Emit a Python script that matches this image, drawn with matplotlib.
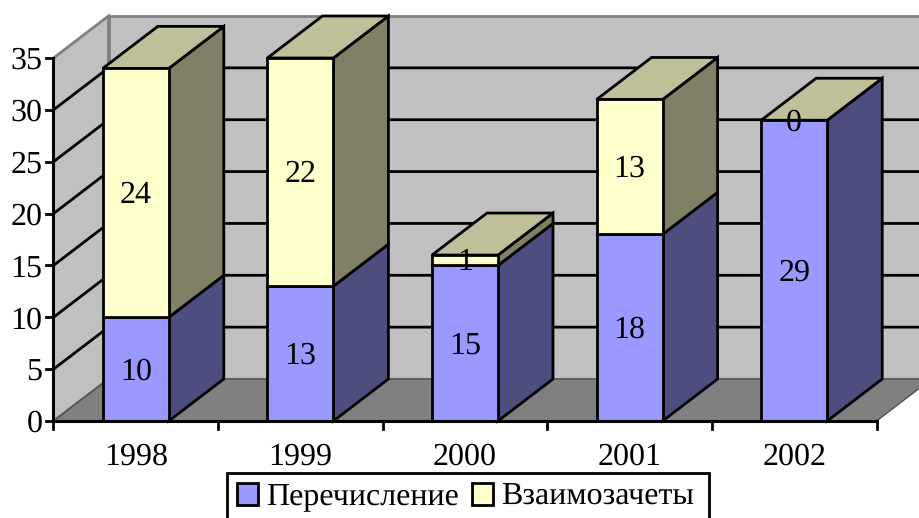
import matplotlib
matplotlib.use("Agg")
import matplotlib.pyplot as plt
from matplotlib.patches import Polygon, Patch, Rectangle

categories = ["1998", "1999", "2000", "2001", "2002"]
perechislenie = [10, 13, 15, 18, 29]
vzaimozachety = [24, 22, 1, 13, 0]
y_ticks = [0, 5, 10, 15, 20, 25, 30, 35]
series_names = ["Перечисление", "Взаимозачеты"]

W, H = 920, 518
plt.rcParams["font.family"] = ["Liberation Serif"]
plt.rcParams["text.hinting"] = "none"
fig = plt.figure(figsize=(W / 100, H / 100), dpi=100)
L, R, B, T = 53.5, 876.5, 421, 58
ax = fig.add_axes([L / W, 1 - B / H, (R - L) / W, (B - T) / H])
ax.set_xlim(0, 5)
ax.set_ylim(0, 35)
ax.axis("off")

px_x = 5 / (R - L)
px_y = 35 / (B - T)
DX = 55 * px_x
DY = 42 * px_y
BAR_W = 66 * px_x
FS = 23


def poly(pts, fc, ec="black", lw=2.0, z=2):
    ax.add_patch(Polygon(pts, closed=True, facecolor=fc, edgecolor=ec, linewidth=lw,
                         zorder=z, clip_on=False, joinstyle="miter"))


top = 35
# walls and floor
poly([(0, 0), (DX, DY), (DX, top + DY), (0, top)], "#C0C0C0", ec="#808080", lw=2, z=1)
poly([(DX, DY), (6, DY), (6, top + DY), (DX, top + DY)], "#C0C0C0", ec="#808080", lw=2, z=1)
poly([(0, 0), (DX, DY), (5 + DX, DY), (5, 0)], "#808080", ec="#505050", lw=1, z=1.1)

# gridlines
for v in y_ticks[1:-1]:
    ax.plot([0, DX, 6], [v, v + DY, v + DY], color="black", lw=2, zorder=1.5,
            clip_on=False, solid_joinstyle="miter")

# bars
front_cols = ["#9999FF", "#FFFFCC"]
side_cols = ["#4D4D80", "#808066"]
for i in range(len(categories)):
    cx = i + 0.5
    x0, x1 = cx - BAR_W / 2, cx + BAR_W / 2
    base = 0
    for s, vals in enumerate([perechislenie, vzaimozachety]):
        v = vals[i]
        if v > 0:
            y0, y1 = base, base + v
            poly([(x1, y0), (x1 + DX, y0 + DY), (x1 + DX, y1 + DY), (x1, y1)], side_cols[s], z=3 + i)
            poly([(x0, y0), (x1, y0), (x1, y1), (x0, y1)], front_cols[s], z=3 + i + 0.1)
        base += v
    y1 = base
    poly([(x0, y1), (x0 + DX, y1 + DY), (x1 + DX, y1 + DY), (x1, y1)], "#BFBF99", z=3 + i + 0.05)
    b = 0
    for vals in [perechislenie, vzaimozachety]:
        ax.text(cx, b + vals[i] / 2 + 1 * px_y, str(vals[i]), ha="center", va="center_baseline",
                fontsize=FS, color="black", zorder=20, clip_on=False)
        b += vals[i]

# axes lines and ticks
ax.plot([0, 0], [0, 35], color="black", lw=2.2, zorder=15, clip_on=False)
ax.plot([0, 5], [0, 0], color="black", lw=2.2, zorder=15, clip_on=False)
for v in y_ticks:
    ax.plot([-7 * px_x, 0], [v, v], color="black", lw=2, zorder=15, clip_on=False)
    ax.text(-11 * px_x, v, str(v), ha="right", va="center_baseline", fontsize=FS, clip_on=False)
for i in range(6):
    ax.plot([i, i], [0, -8 * px_y], color="black", lw=2, zorder=15, clip_on=False)
for i, c in enumerate(categories):
    ax.text(i + 0.5, -33 * px_y, c, ha="center", va="center_baseline", fontsize=FS, clip_on=False)

# legend frame runs off the bottom edge of the picture
fig.add_artist(Rectangle((227.5 / W, 1 - 525 / H), 481.5 / W, 52 / H, transform=fig.transFigure,
                         facecolor="white", edgecolor="black", linewidth=2, zorder=30))
handles = [Patch(facecolor=front_cols[0], edgecolor="black", linewidth=2),
           Patch(facecolor=front_cols[1], edgecolor="black", linewidth=2)]
leg = fig.legend(handles, series_names, loc="upper left", bbox_to_anchor=(227.5 / W, 1 - 473 / H),
                 ncol=2, fontsize=FS, frameon=False,
                 handlelength=0.66, handleheight=0.66, handletextpad=0.25, columnspacing=0.4,
                 borderpad=0.31, borderaxespad=0)
leg.set_zorder(31)

fig.savefig("out.png", dpi=100, facecolor="white")
